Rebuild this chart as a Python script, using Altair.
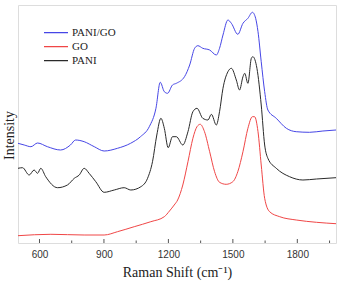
import altair as alt
import pandas as pd

# Raman spectra (wavenumber in cm^-1, intensity in arbitrary units)
pani_go_shift = [500, 529, 560, 591, 637, 698, 744, 768, 808, 855, 901, 963, 1024, 1070,
                 1111, 1142, 1162, 1181, 1196, 1219, 1237, 1275, 1299, 1322, 1337, 1360,
                 1392, 1423, 1438, 1454, 1477, 1493, 1523, 1547, 1570, 1591, 1606, 1617,
                 1632, 1648, 1663, 1702, 1749, 1795, 1857, 1919, 1980]
pani_go_int = [99.7, 98, 96.3, 100, 96.3, 93, 98, 103, 101.3, 96.3, 92, 94.7, 99.7, 106.3,
               116.3, 134.7, 160.7, 151.3, 149.7, 158, 159.7, 166.3, 178, 194.7, 197.3, 194.7,
               193, 188, 194.7, 208, 223, 219.7, 208.7, 219.7, 224.7, 230.7, 224.7, 211.3,
               181.3, 151.3, 133, 124.7, 114.7, 111.3, 110.7, 112, 113]

go_shift = [500, 653, 808, 901, 963, 1041, 1118, 1181, 1205, 1227, 1243, 1267, 1291, 1314,
            1333, 1348, 1368, 1392, 1415, 1438, 1469, 1500, 1523, 1547, 1570, 1591, 1601,
            1617, 1632, 1648, 1671, 1718, 1795, 1889, 1980]
go_int = [7.3, 8.7, 8, 8, 11.3, 16.3, 21.3, 26.3, 32, 38, 43, 58, 81.3, 104.7,
          116.3, 118.7, 111.3, 91.3, 71.3, 60.7, 58.7, 61.3, 71.3, 91.3, 114.7, 126.3, 126.3,
          111.3, 78, 44.7, 31.3, 26.3, 23, 20.7, 19.3]

pani_shift = [500, 521, 552, 575, 591, 606, 629, 684, 730, 762, 785, 808, 831, 862, 901,
              948, 994, 1025, 1072, 1103, 1126, 1146, 1165, 1181, 1199, 1219, 1237, 1267,
              1291, 1314, 1333, 1360, 1384, 1400, 1423, 1438, 1454, 1477, 1493, 1516, 1531,
              1547, 1555, 1570, 1586, 1593, 1612, 1632, 1648, 1663, 1702, 1764, 1826, 1889, 1980]
pani_int = [74.7, 75.3, 68, 73, 69.7, 74.7, 66.3, 55.3, 58, 64.7, 68, 74.7, 69.7, 61.3, 50.7,
            53, 55.3, 53, 56.3, 64.7, 81.3, 108, 124.7, 114.7, 95.3, 106.3, 106.3, 98,
            111.3, 131.3, 134.7, 124.7, 123, 128.7, 118, 131.3, 154.7, 171.3, 174.7, 163, 153,
            166.3, 169.7, 159.7, 184.7, 186.3, 174.7, 138, 98, 84.7, 74.7, 66.3, 63, 64, 65.3]

series_names = ["PANI/GO", "GO", "PANI"]
series_colors = ["#4646e6", "#f04646", "#2a2a2a"]

major_ticks = [600, 900, 1200, 1500, 1800]
minor_ticks = [750, 1050, 1350, 1650, 1950]

frames = []
for name, xs, ys in [("PANI/GO", pani_go_shift, pani_go_int),
                     ("GO", go_shift, go_int),
                     ("PANI", pani_shift, pani_int)]:
    frames.append(pd.DataFrame({"shift": xs, "intensity": ys, "sample": name}))
spectra = pd.concat(frames, ignore_index=True)

W, H = 318, 238
serif = "Liberation Serif"

x_scale = alt.Scale(domain=[500, 1980], nice=False, zero=False)
y_scale = alt.Scale(domain=[0, 238], nice=False, zero=True)

lines = alt.Chart(spectra).mark_line(strokeWidth=1, interpolate="monotone").encode(
    x=alt.X("shift:Q", scale=x_scale,
            axis=alt.Axis(title="Raman Shift (cm⁻¹)", values=major_ticks, format="d",
                          ticks=False, domain=False, grid=False,
                          labelFont="Liberation Sans", labelFontSize=10,
                          labelColor="#333", labelPadding=6,
                          titleFont=serif, titleFontSize=14, titleFontWeight="normal",
                          titleColor="#222", titlePadding=6)),
    y=alt.Y("intensity:Q", scale=y_scale,
            axis=alt.Axis(title="Intensity", labels=False, ticks=False, domain=False,
                          grid=False, titleFont=serif, titleFontSize=14,
                          titleFontWeight="normal", titleColor="#222", titlePadding=2,
                          titleY=130)),
    color=alt.Color("sample:N",
                    scale=alt.Scale(domain=series_names, range=series_colors),
                    sort=series_names,
                    legend=alt.Legend(title=None, orient="none", legendX=25, legendY=21,
                                      symbolType="stroke", symbolSize=576,
                                      symbolStrokeWidth=1.2, labelFont=serif,
                                      labelFontSize=11, labelColor="#222",
                                      labelOffset=3, padding=0, rowPadding=0,
                                      clipHeight=13.4)),
    order=alt.Order("shift:Q"),
)

major_df = pd.DataFrame({"tick": major_ticks})
minor_df = pd.DataFrame({"tick": minor_ticks})

major_rules = alt.Chart(major_df).mark_rule(color="#555", strokeWidth=1).encode(
    x=alt.X("tick:Q", scale=x_scale), y=alt.value(H), y2=alt.value(H - 4))
minor_rules = alt.Chart(minor_df).mark_rule(color="#555", strokeWidth=1).encode(
    x=alt.X("tick:Q", scale=x_scale), y=alt.value(H), y2=alt.value(H - 2.5))

chart = alt.layer(lines, major_rules, minor_rules).properties(
    width=W, height=H,
    autosize=alt.AutoSizeParams(type="none"),
    padding={"left": 18, "top": 5, "right": 5, "bottom": 38},
).configure_view(stroke="#7a7a7a", strokeWidth=1.6).configure(background="white")

chart.save("out.html", embed_options={"renderer": "svg", "actions": False})
